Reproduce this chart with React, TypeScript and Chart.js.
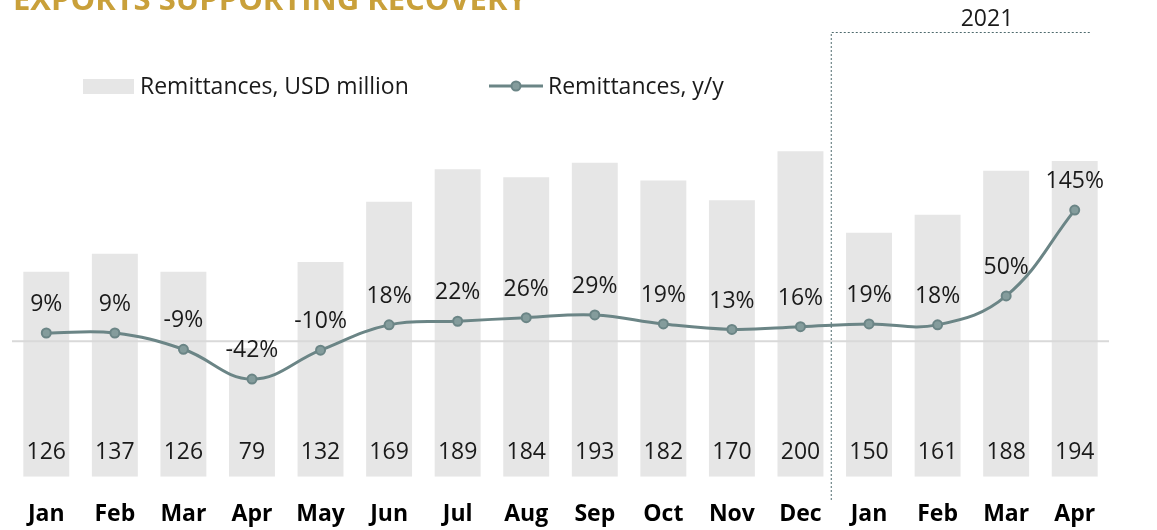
import React, { useEffect, useRef } from "react";
import { Chart, registerables } from "chart.js";

Chart.register(...registerables);

const months = ["Jan", "Feb", "Mar", "Apr", "May", "Jun", "Jul", "Aug", "Sep", "Oct", "Nov", "Dec", "Jan", "Feb", "Mar", "Apr"];
const remittancesUsd = [126, 137, 126, 79, 132, 169, 189, 184, 193, 182, 170, 200, 150, 161, 188, 194];
const remittancesYoY = [9, 9, -9, -42, -10, 18, 22, 26, 29, 19, 13, 16, 19, 18, 50, 145];
const barLegend = "Remittances, USD million";
const lineLegend = "Remittances, y/y";
const titleText = "EXPORTS SUPPORTING RECOVERY";
const yearLabel = "2021";
const yearStartIndex = 12;

const FONT = "'Open Sans', 'Noto Sans', sans-serif";
const LINE_COLOR = "#6b8586";
const BAR_COLOR = "#e6e6e6";
const TEXT_COLOR = "#1a1a1a";

const decorPlugin = {
  id: "decor",
  beforeDatasetDraw(chart: any, args: any) {
    if (args.index !== 1) return;
    const { ctx, chartArea } = chart;
    const y1 = chart.scales.y1;
    const y0 = y1.getPixelForValue(0);
    ctx.save();
    ctx.strokeStyle = "#d9d9d9";
    ctx.lineWidth = 2;
    ctx.beginPath();
    ctx.moveTo(chartArea.left, y0);
    ctx.lineTo(chartArea.right, y0);
    ctx.stroke();
    ctx.restore();
  },
  afterDatasetsDraw(chart: any) {
    const { ctx, chartArea } = chart;
    const x = chart.scales.x;
    ctx.save();
    // bar value labels
    ctx.font = `23px ${FONT}`;
    ctx.fillStyle = TEXT_COLOR;
    ctx.textAlign = "center";
    ctx.textBaseline = "alphabetic";
    const barMeta = chart.getDatasetMeta(0);
    barMeta.data.forEach((el: any, i: number) => {
      ctx.fillText(String(remittancesUsd[i]), el.x, chartArea.bottom - 26 + 8.2);
    });
    // line labels
    const lineMeta = chart.getDatasetMeta(1);
    lineMeta.data.forEach((el: any, i: number) => {
      ctx.fillText(remittancesYoY[i] + "%", el.x, el.y - 30 + 8.2);
    });

    // title (cut off at top)
    ctx.font = `bold 31px ${FONT}`;
    ctx.fillStyle = "#c9a03a";
    ctx.textAlign = "left";
    ctx.fillText(titleText, 13, 9.5);

    // legend
    ctx.fillStyle = BAR_COLOR;
    ctx.fillRect(83, 79, 51, 15);
    ctx.font = `23px ${FONT}`;
    ctx.fillStyle = TEXT_COLOR;
    ctx.fillText(barLegend, 140, 86 + 8.2);
    ctx.strokeStyle = LINE_COLOR;
    ctx.lineWidth = 3;
    ctx.beginPath();
    ctx.moveTo(489, 86);
    ctx.lineTo(543, 86);
    ctx.stroke();
    ctx.beginPath();
    ctx.arc(516, 86, 4.5, 0, Math.PI * 2);
    ctx.fillStyle = "#849c9c";
    ctx.fill();
    ctx.lineWidth = 2;
    ctx.stroke();
    ctx.fillStyle = TEXT_COLOR;
    ctx.fillText(lineLegend, 548, 86 + 8.2);

    // 2021 bracket
    const xs = (x.getPixelForValue(yearStartIndex - 1) + x.getPixelForValue(yearStartIndex)) / 2 - 4;
    const xe = x.getPixelForValue(months.length - 1) + 17;
    const yTop = 32.5;
    ctx.strokeStyle = "#4f6b6e";
    ctx.lineWidth = 1;
    ctx.setLineDash([2, 2]);
    ctx.beginPath();
    ctx.moveTo(xs + 0.5, 500);
    ctx.lineTo(xs + 0.5, yTop);
    ctx.lineTo(xe, yTop);
    ctx.stroke();
    ctx.setLineDash([]);
    ctx.textAlign = "center";
    ctx.fillStyle = TEXT_COLOR;
    ctx.fillText(yearLabel, 987, 17.5 + 8.2);
    ctx.restore();
  },
};

export default function App() {
  const ref = useRef<HTMLCanvasElement>(null);
  useEffect(() => {
    if (!ref.current) return;
    const chart = new Chart(ref.current, {
      type: "bar",
      data: {
        labels: months,
        datasets: [
          {
            type: "bar",
            label: barLegend,
            data: remittancesUsd,
            backgroundColor: BAR_COLOR,
            yAxisID: "y",
            categoryPercentage: 1,
            barPercentage: 0.67,
            order: 1,
          },
          {
            type: "line",
            label: lineLegend,
            data: remittancesYoY,
            yAxisID: "y1",
            borderColor: LINE_COLOR,
            borderWidth: 3,
            tension: 0.4,
            pointRadius: 4.5,
            pointBorderWidth: 2,
            pointBackgroundColor: "#849c9c",
            pointBorderColor: LINE_COLOR,
            order: 0,
          } as any,
        ],
      },
      options: {
        responsive: false,
        animation: false,
        devicePixelRatio: 1,
        layout: { padding: { left: 12, right: 48, top: 70, bottom: 0 } },
        plugins: { legend: { display: false }, tooltip: { enabled: false }, title: { display: false } },
        scales: {
          x: {
            grid: { display: false, drawTicks: false },
            border: { display: false },
            ticks: { color: "#000", font: { family: FONT, size: 23, weight: "bold" }, padding: 23.5, maxRotation: 0, autoSkip: false },
            afterFit: (scale: any) => {
              scale.height = 53.3;
            },
          },
          y: { display: false, min: 0, max: 250 },
          y1: { display: false, min: -150, max: 300 },
        },
      },
      plugins: [decorPlugin],
    });
    return () => chart.destroy();
  }, []);
  return (
    <div style={{ position: "absolute", left: 0, top: 0, width: 1157, height: 530, background: "#fff" }}>
      <canvas ref={ref} width={1157} height={530} style={{ display: "block" }} />
    </div>
  );
}
